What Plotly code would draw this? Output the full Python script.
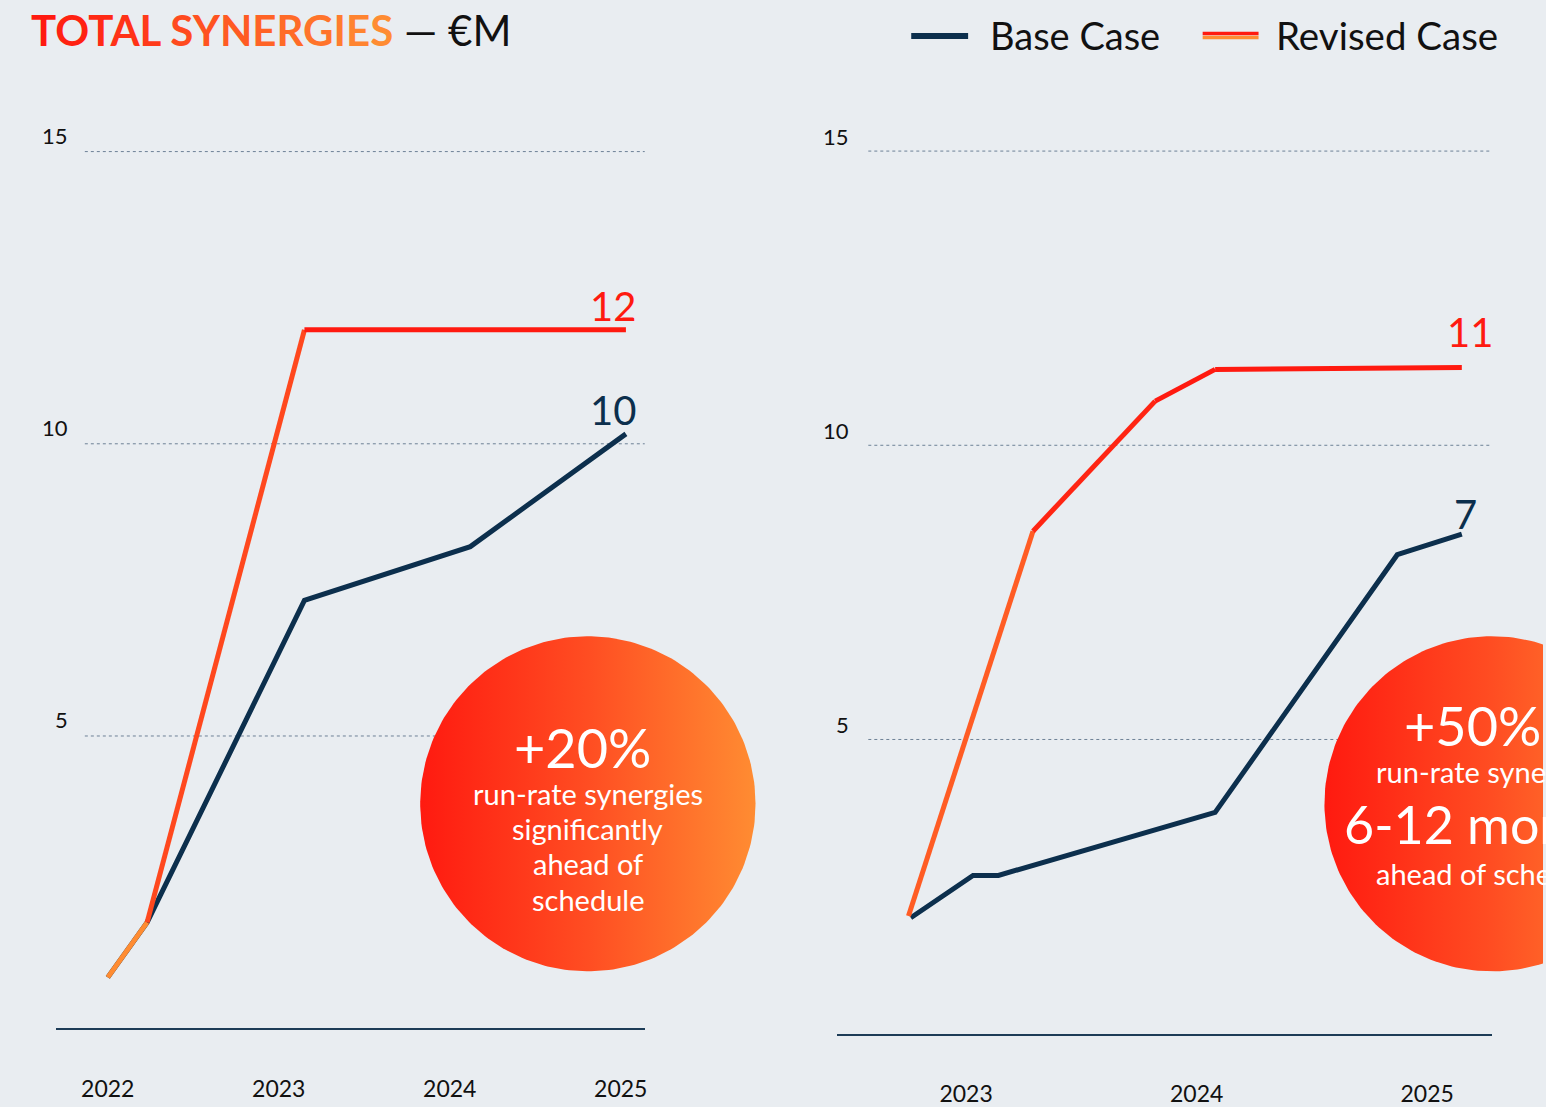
import numpy as np
import plotly.graph_objects as go

# ---------------- data ----------------
years_left = [2022, 2023, 2024, 2025]
years_right = [2023, 2024, 2025]
y_ticks = [5, 10, 15]

left_base_x = [2022.0, 2022.23, 2023.15, 2024.12, 2025.03]
left_base_y = [0.87, 1.81, 7.32, 8.24, 10.17]
left_rev_x = [2022.0, 2022.23, 2023.15, 2025.03]
left_rev_y = [0.87, 1.81, 11.95, 11.95]

right_base_x = [2022.76, 2023.03, 2023.14, 2024.08, 2024.87, 2025.15]
right_base_y = [1.97, 2.69, 2.69, 3.76, 8.14, 8.49]
right_rev_x = [2022.75, 2023.29, 2023.82, 2024.08, 2025.15]
right_rev_y = [2.0, 8.54, 10.75, 11.29, 11.32]

left_labels = {"rev": "12", "base": "10"}
right_labels = {"rev": "11", "base": "7"}

# ---------------- style ----------------
W, H = 1546, 1107
HM = 1100.0  # effective vertical pixel mapping observed in the rendered page
BG = "#e9edf1"
NAVY = "#0c2f4d"
RED = "#ff1a10"
ORANGE = "#ff8c32"
FONT = "Lato"


def blend(t):
    t = max(0.0, min(1.0, t))
    a = np.array([0xff, 0x8c, 0x32])
    b = np.array([0xff, 0x1a, 0x10])
    c = a + (b - a) * t
    return "rgb(%d,%d,%d)" % tuple(int(round(v)) for v in c)


def px2fx(px):
    return px / W


def px2fy(py):
    return 1 - py / HM


fig = go.Figure()

# axes geometry (pixels)
L_x0, L_x1 = 56, 646
L_year_px, L_pxyr = 108, (622 - 108) / 3.0
L_zero, L_top = 1031, 93.4
R_x0, R_x1 = 839, 1495
R_year_px, R_pxyr = 968, (1430 - 968) / 2.0
R_zero, R_top = 1036.5, 92.5

layout = dict(
    width=W, height=H,
    margin=dict(l=0, r=0, t=0, b=0),
    paper_bgcolor=BG, plot_bgcolor="rgba(0,0,0,0)",
    showlegend=False,
    font=dict(family=FONT, color="#111111"),
)

xcommon = dict(showgrid=False, zeroline=False, showline=True, linecolor="#1d3c57",
               linewidth=1.5, ticks="", tickfont=dict(size=23, color="#111111", family=FONT),
               ticklabelstandoff=39, fixedrange=True)
ycommon = dict(showgrid=False, zeroline=False, showline=False, showticklabels=False,
               range=[0, 16], fixedrange=True)

layout["xaxis"] = dict(xcommon, domain=[px2fx(L_x0), px2fx(L_x1)],
                       range=[2022 - (L_year_px - L_x0) / L_pxyr, 2022 + (L_x1 - L_year_px) / L_pxyr],
                       tickvals=years_left, ticktext=[str(y) for y in years_left], anchor="y")
layout["yaxis"] = dict(ycommon, domain=[px2fy(L_zero), px2fy(L_top)], anchor="x")
layout["xaxis2"] = dict(xcommon, domain=[px2fx(R_x0), px2fx(R_x1)],
                        range=[2023 - (R_year_px - R_x0) / R_pxyr, 2023 + (R_x1 - R_year_px) / R_pxyr],
                        tickvals=years_right, ticktext=[str(y) for y in years_right], anchor="y2")
layout["yaxis2"] = dict(ycommon, domain=[px2fy(R_zero), px2fy(R_top)], anchor="x2")
layout["xaxis3"] = dict(domain=[0, 1], range=[0, W], visible=False, anchor="y3", fixedrange=True)
layout["yaxis3"] = dict(domain=[0, 1], range=[HM, 0], visible=False, anchor="x3", fixedrange=True)
fig.update_layout(**layout)

# base lines
for xs, ys, xa, ya in [(left_base_x, left_base_y, "x", "y"), (right_base_x, right_base_y, "x2", "y2")]:
    fig.add_trace(go.Scatter(x=xs, y=ys, mode="lines", xaxis=xa, yaxis=ya,
                             line=dict(color=NAVY, width=5), hoverinfo="skip"))

# revised lines: coloured segment by segment (orange low -> red high)
for xs, ys, xa, ya in [(left_rev_x, left_rev_y, "x", "y"), (right_rev_x, right_rev_y, "x2", "y2")]:
    for i in range(len(xs) - 1):
        mid = (ys[i] + ys[i + 1]) / 2.0
        t = (mid - 1.5) / 9.0
        fig.add_trace(go.Scatter(x=xs[i:i + 2], y=ys[i:i + 2], mode="lines", xaxis=xa, yaxis=ya,
                                 line=dict(color=blend(t), width=5), hoverinfo="skip"))

# dotted gridlines
shapes = []
for v in y_ticks:
    shapes.append(dict(type="line", xref="x domain", yref="y", x0=(85 - L_x0) / (L_x1 - L_x0), x1=1,
                       y0=v, y1=v, line=dict(color="#6d8196", width=1, dash="dot"), layer="below"))
    shapes.append(dict(type="line", xref="x2 domain", yref="y2", x0=(870 - R_x0) / (R_x1 - R_x0), x1=1,
                       y0=v, y1=v, line=dict(color="#6d8196", width=1, dash="dot"), layer="below"))

# legend samples
shapes.append(dict(type="line", xref="paper", yref="paper", x0=px2fx(913), x1=px2fx(970),
                   y0=px2fy(36), y1=px2fy(36), line=dict(color=NAVY, width=6)))
shapes.append(dict(type="line", xref="paper", yref="paper", x0=px2fx(1205), x1=px2fx(1261),
                   y0=px2fy(33.5), y1=px2fy(33.5), line=dict(color=RED, width=3.5)))
shapes.append(dict(type="line", xref="paper", yref="paper", x0=px2fx(1205), x1=px2fx(1261),
                   y0=px2fy(37.5), y1=px2fy(37.5), line=dict(color=ORANGE, width=3.5)))
fig.update_layout(shapes=shapes)

# gradient circles (decorative callouts) on pixel overlay axes
theta = np.linspace(0, 2 * np.pi, 240)
for cx, cy, r in [(589, 806, 168), (1495, 806, 168)]:
    fig.add_trace(go.Scatter(x=cx + r * np.cos(theta), y=cy + r * np.sin(theta), mode="lines",
                             xaxis="x3", yaxis="y3", fill="toself", line=dict(width=0, color=RED),
                             fillgradient=dict(type="horizontal",
                                               colorscale=[[0, "#ff1a10"], [0.5, "#ff4d22"], [1, "#ff8c32"]]),
                             hoverinfo="skip"))

ann = []
# y tick labels
for v in y_ticks:
    ann.append(dict(xref="paper", yref="y", x=px2fx(70), y=v, yshift=16, text=str(v), showarrow=False,
                    xanchor="right", yanchor="middle", font=dict(size=22, color="#111111")))
    ann.append(dict(xref="paper", yref="y2", x=px2fx(853), y=v, yshift=15, text=str(v), showarrow=False,
                    xanchor="right", yanchor="middle", font=dict(size=22, color="#111111")))

# end-value labels
ann.append(dict(xref="x", yref="y", x=left_rev_x[-1], y=left_rev_y[-1], xshift=-13, yshift=24,
                text=left_labels["rev"], showarrow=False, font=dict(size=40, color=RED)))
ann.append(dict(xref="x", yref="y", x=left_base_x[-1], y=left_base_y[-1], xshift=-13, yshift=24,
                text=left_labels["base"], showarrow=False, font=dict(size=40, color=NAVY)))
ann.append(dict(xref="x2", yref="y2", x=right_rev_x[-1], y=right_rev_y[-1], xshift=8, yshift=36,
                text=right_labels["rev"], showarrow=False, font=dict(size=40, color=RED)))
ann.append(dict(xref="x2", yref="y2", x=right_base_x[-1], y=right_base_y[-1], xshift=4, yshift=20,
                text=right_labels["base"], showarrow=False, font=dict(size=40, color=NAVY)))

# title with gradient letters
title = "TOTAL SYNERGIES"
n = len(title)
spans = []
for i, ch in enumerate(title):
    t = 1 - i / (n - 1)
    spans.append("<span style='color:%s'>%s</span>" % (blend(t), ch))
title_html = "<b>" + "".join(spans) + "</b><span style='color:#111111'> — €M</span>"
ann.append(dict(xref="paper", yref="paper", x=px2fx(29), y=px2fy(30), text=title_html, showarrow=False,
                xanchor="left", yanchor="middle", font=dict(size=42, family=FONT)))

# legend text
ann.append(dict(xref="paper", yref="paper", x=px2fx(990), y=px2fy(35), text="Base Case", showarrow=False,
                xanchor="left", yanchor="middle", font=dict(size=38, color="#111111")))
ann.append(dict(xref="paper", yref="paper", x=px2fx(1276), y=px2fy(35), text="Revised Case", showarrow=False,
                xanchor="left", yanchor="middle", font=dict(size=38.5, color="#111111")))

# circle texts
left_circle = [("+20%", 584, 750, 54), ("run-rate synergies", 589, 796, 29), ("significantly", 589, 831, 29),
               ("ahead of", 589, 866, 29), ("schedule", 589, 902, 29)]
right_circle = [("+50%", 1475, 727, 54), ("run-rate synergies", 1494, 774, 29), ("6-12 months", 1494, 826, 52),
                ("ahead of schedule", 1494, 876, 29)]
for txt, x, y, s in left_circle + right_circle:
    ann.append(dict(xref="paper", yref="paper", x=px2fx(x), y=px2fy(y), text=txt, showarrow=False,
                    xanchor="center", yanchor="middle", font=dict(size=s, color="white")))

fig.update_layout(annotations=ann)
fig.write_html("out.html", config={"displayModeBar": False},
               post_script="document.body.style.margin='0';document.body.style.overflow='hidden';")
